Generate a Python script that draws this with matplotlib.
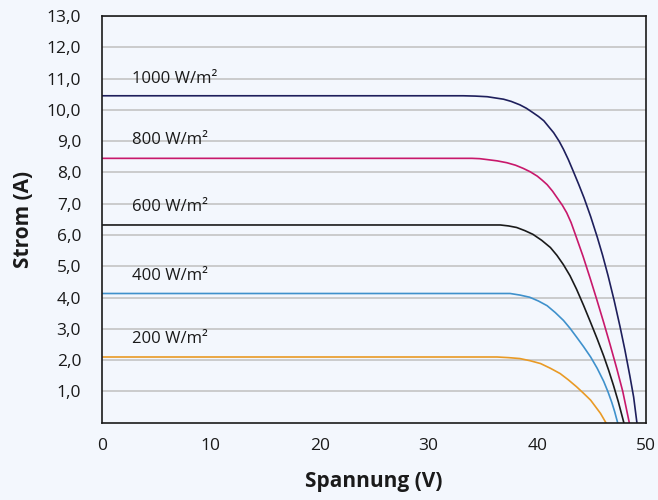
import matplotlib
matplotlib.use("Agg")
import matplotlib.pyplot as plt
from matplotlib.ticker import FuncFormatter

plt.rcParams['font.family'] = ['Open Sans', 'DejaVu Sans']

# I-V Kennlinien bei verschiedenen Einstrahlungen
v_1000 = [0, 33.2, 34.3, 35.4, 36.9, 37.6, 38.4, 39.0, 39.6, 40.1, 40.6, 41.0, 41.5, 42.0, 42.4,
          42.85, 43.3, 43.8, 44.3, 44.9, 45.5, 46.0, 46.5, 47.05, 47.6, 48.05, 48.5, 48.85, 49.15]
i_1000 = [10.45, 10.45, 10.44, 10.42, 10.34, 10.27, 10.16, 10.05, 9.91, 9.79, 9.65, 9.48, 9.27, 9.00, 8.74,
          8.41, 8.04, 7.62, 7.18, 6.59, 5.94, 5.35, 4.70, 3.92, 3.07, 2.32, 1.50, 0.82, 0]

v_800 = [0, 34.0, 34.7, 35.4, 36.3, 37.2, 38.0, 38.7, 39.35, 40.0, 40.45, 40.9, 41.4, 41.9, 42.3,
         42.7, 43.1, 43.45, 44.2, 44.85, 45.45, 46.1, 46.7, 47.3, 47.85, 48.45]
i_800 = [8.45, 8.45, 8.44, 8.41, 8.37, 8.31, 8.23, 8.13, 8.02, 7.88, 7.75, 7.61, 7.40, 7.15, 6.95,
         6.71, 6.40, 6.06, 5.32, 4.62, 3.95, 3.20, 2.48, 1.73, 1.00, 0]

v_600 = [0, 36.6, 37.35, 38.1, 38.85, 39.6, 40.4, 41.2, 41.8, 42.4, 43.0, 43.6, 44.25, 44.9,
         45.5, 46.1, 46.55, 47.0, 47.45, 47.95]
i_600 = [6.32, 6.32, 6.29, 6.24, 6.14, 6.02, 5.83, 5.60, 5.35, 5.05, 4.70, 4.27, 3.75, 3.20,
         2.68, 2.13, 1.68, 1.19, 0.66, 0]

v_400 = [0, 37.5, 38.4, 39.3, 40.1, 40.9, 41.65, 42.4, 43.0, 43.6, 44.25, 44.9, 45.5, 46.1,
         46.5, 46.85, 47.1, 47.38]
i_400 = [4.13, 4.13, 4.08, 4.01, 3.89, 3.74, 3.52, 3.27, 3.02, 2.74, 2.43, 2.10, 1.74, 1.32,
         0.98, 0.64, 0.36, 0]

v_200 = [0, 36.3, 37.35, 38.4, 39.35, 40.3, 41.2, 42.1, 42.85, 43.6, 44.25, 44.9, 45.35, 45.8,
         46.05, 46.3]
i_200 = [2.10, 2.10, 2.08, 2.05, 1.98, 1.89, 1.74, 1.57, 1.37, 1.15, 0.94, 0.72, 0.51, 0.30,
         0.15, 0]

labels = ['1000 W/m²', '800 W/m²', '600 W/m²', '400 W/m²', '200 W/m²']
label_y = [10.99, 9.04, 6.91, 4.69, 2.67]
colors = ['#1e1f5c', '#c8186b', '#1a1a1a', '#3f91cc', '#e99a25']

x_ticks = [0, 10, 20, 30, 40, 50]
y_ticks = [1, 2, 3, 4, 5, 6, 7, 8, 9, 10, 11, 12, 13]

bg = '#f3f7fd'
fig = plt.figure(figsize=(6.58, 5.0), dpi=100, facecolor=bg)
ax = fig.add_axes([0.155, 0.1546, 0.827, 0.8134], facecolor=bg)

curves = [(v_1000, i_1000), (v_800, i_800), (v_600, i_600), (v_400, i_400), (v_200, i_200)]
for (v, i), c, lab, ly in zip(curves, colors, labels, label_y):
    ax.plot(v, i, color=c, lw=1.2, solid_joinstyle='round')
    ax.text(2.8, ly, lab, color='#1a1a1a', fontsize=12, va='center', ha='left')

ax.set_xlim(0, 50)
ax.set_ylim(0, 13)
ax.set_xticks(x_ticks)
ax.set_yticks(y_ticks)
ax.yaxis.set_major_formatter(FuncFormatter(lambda y, p: f"{y:.1f}".replace('.', ',')))
ax.grid(axis='y', color='#c4c4c4', lw=1.2)
ax.set_axisbelow(True)
ax.tick_params(length=0, labelsize=12.5, colors='#1a1a1a')
ax.tick_params(axis='x', pad=11)
ax.tick_params(axis='y', pad=15)
for s in ax.spines.values():
    s.set_color('#1a1a1a')
    s.set_linewidth(1.2)

ax.set_xlabel('Spannung (V)', fontsize=15, fontweight='bold', color='#1a1a1a', labelpad=12)
ax.set_ylabel('Strom (A)', fontsize=15, fontweight='bold', color='#1a1a1a', labelpad=9)

fig.savefig('out.png', dpi=100, facecolor=bg)
